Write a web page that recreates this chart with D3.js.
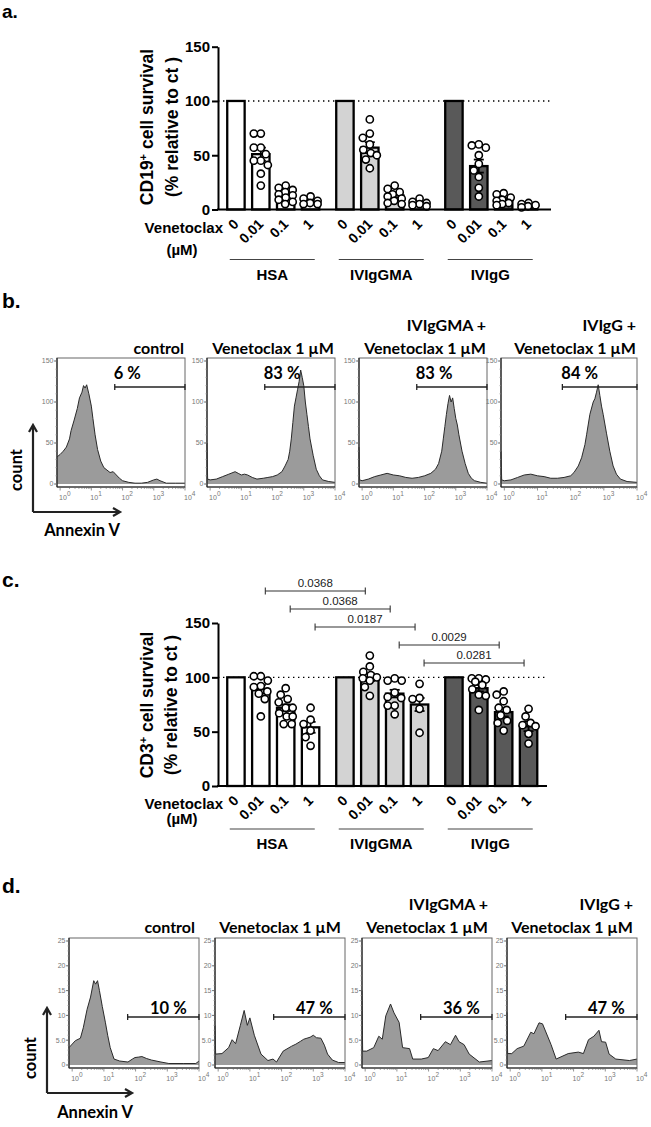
<!DOCTYPE html>
<html><head><meta charset="utf-8">
<script src="https://cdn.jsdelivr.net/npm/d3@7"></script>
<style>body{margin:0;background:#fff}svg{display:block}</style>
</head><body>
<script>
// ================= DATA =================
const groups = ["HSA", "IVIgGMA", "IVIgG"];
const doses = ["0", "0.01", "0.1", "1"];
const barFills = ["#ffffff", "#d3d3d3", "#595959"];

// Panel a : CD19+ cell survival (% relative to ct)
const cd19Mean_HSA = [100, 51, 14, 8];
const cd19Mean_GMA = [100, 57, 13, 6];
const cd19Mean_IgG = [100, 40, 9, 4];
const cd19Sem_HSA = [0, 6, 2, 1];
const cd19Sem_GMA = [0, 5, 2, 1];
const cd19Sem_IgG = [0, 6, 1.5, 0.8];
const cd19Pts_HSA = [[], [70, 70, 57, 57, 51, 45, 45, 41, 33, 22], [22, 20, 18, 16, 14, 13, 11, 9, 7, 5], [12, 10, 8, 6, 5, 5]];
const cd19Pts_GMA = [[], [83, 70, 66, 60, 55, 52, 50, 46, 38], [22, 19, 16, 14, 12, 10, 8, 6, 5], [10, 7, 6, 5, 4, 3]];
const cd19Pts_IgG = [[], [60, 59, 57, 50, 42, 36, 30, 20, 12], [15, 14, 11, 9, 8, 6, 5, 4], [6, 5, 4, 3, 2]];

// Panel c : CD3+ cell survival (% relative to ct)
const cd3Mean_HSA = [100, 89, 72, 54];
const cd3Mean_GMA = [100, 100, 85, 75];
const cd3Mean_IgG = [100, 90, 68, 55];
const cd3Sem_HSA = [0, 4, 3, 5];
const cd3Sem_GMA = [0, 3.5, 3.5, 6];
const cd3Sem_IgG = [0, 3, 4, 4.5];
const cd3Pts_HSA = [[], [101, 101, 97, 92, 91, 87, 85, 80, 64], [90, 84, 80, 77, 72, 72, 67, 64, 64, 57, 57], [72, 61, 57, 51, 45, 37]];
const cd3Pts_GMA = [[], [120, 110, 105, 102, 100, 99, 97, 91, 83], [99, 97, 97, 86, 82, 81, 74, 74, 66], [94, 81, 80, 71, 49]];
const cd3Pts_IgG = [[], [99, 99, 98, 96, 93, 89, 84, 83, 70], [87, 84, 78, 72, 70, 65, 60, 58, 51], [71, 64, 58, 56, 55, 48, 39]];
// significance comparisons [group1, dose1, group2, dose2, p]
const cd3Tests = [
  ["HSA", "0.01", "IVIgGMA", "0.01", "0.0368"],
  ["HSA", "0.1", "IVIgGMA", "0.1", "0.0368"],
  ["HSA", "1", "IVIgGMA", "1", "0.0187"],
  ["IVIgGMA", "0.1", "IVIgG", "0.1", "0.0029"],
  ["IVIgGMA", "1", "IVIgG", "1", "0.0281"]
];
const yTicks = [0, 50, 100, 150];

// Histograms : [log10(Annexin V), count]
const histTitles = [["control"], ["Venetoclax 1 \u00b5M"], ["IVIgGMA +", "Venetoclax 1 \u00b5M"], ["IVIgG +", "Venetoclax 1 \u00b5M"]];
const gateLog = [1.75, 4];
const bPercent = ["6 %", "83 %", "83 %", "84 %"];
const dPercent = ["10 %", "47 %", "36 %", "47 %"];
const bTicks = [0, 50, 100, 150];
const dTicks = [0, 5, 10, 15, 20, 25];

const bHist_control = [[-0.1,33],[0,36],[0.1,40],[0.2,45],[0.3,55],[0.35,65],[0.45,78],[0.55,92],[0.62,105],[0.7,112],[0.75,120],[0.8,117],[0.85,121],[0.92,110],[1.0,95],[1.05,80],[1.12,60],[1.2,42],[1.3,28],[1.4,20],[1.5,17],[1.6,14],[1.7,15],[1.8,11],[1.9,7],[2.0,4],[2.2,2],[2.4,1],[2.6,1],[2.8,2],[3.0,5],[3.1,6],[3.2,4],[3.4,1],[3.7,1],[4.0,1]];
const bHist_ven = [[-0.1,50],[-0.08,6],[0,5],[0.2,6],[0.4,9],[0.6,12],[0.8,15],[0.9,13],[1.0,11],[1.1,12],[1.2,11],[1.35,8],[1.5,6],[1.7,7],[1.85,8],[2.0,9],[2.15,11],[2.3,15],[2.4,22],[2.5,30],[2.55,40],[2.6,55],[2.65,75],[2.7,95],[2.75,105],[2.8,115],[2.85,125],[2.9,139],[2.95,130],[3.0,120],[3.05,100],[3.1,85],[3.15,70],[3.2,55],[3.3,35],[3.4,18],[3.5,10],[3.6,5],[3.8,3],[4.0,2]];
const bHist_gma = [[-0.1,45],[-0.08,5],[0,4],[0.2,6],[0.4,9],[0.6,11],[0.8,13],[1.0,11],[1.2,10],[1.4,8],[1.6,7],[1.8,8],[2.0,10],[2.2,13],[2.35,18],[2.45,25],[2.55,40],[2.6,55],[2.65,70],[2.7,85],[2.75,98],[2.8,108],[2.85,100],[2.9,105],[2.95,92],[3.0,80],[3.05,72],[3.1,60],[3.2,40],[3.3,25],[3.4,13],[3.5,7],[3.6,4],[3.8,2],[4.0,1]];
const bHist_igg = [[-0.1,40],[-0.08,5],[0,4],[0.2,5],[0.4,8],[0.6,11],[0.8,12],[1.0,10],[1.2,9],[1.4,7],[1.6,7],[1.8,8],[2.0,10],[2.1,14],[2.23,22],[2.33,32],[2.43,48],[2.48,60],[2.58,85],[2.68,100],[2.73,104],[2.78,112],[2.83,121],[2.88,108],[2.93,95],[2.98,85],[3.08,62],[3.18,40],[3.28,22],[3.38,12],[3.5,6],[3.7,3],[4.0,2]];

const dHist_control = [[-0.1,3.5],[0.1,4.9],[0.26,5.4],[0.35,7.5],[0.47,11.2],[0.58,13.7],[0.68,17],[0.74,16.3],[0.8,17],[0.86,15],[0.95,11.8],[1.05,8.5],[1.12,6],[1.2,3.5],[1.32,1.2],[1.5,0.8],[1.76,0.6],[1.9,1.2],[1.98,1.5],[2.1,1.6],[2.2,1.7],[2.35,1.3],[2.5,1.0],[2.8,0.6],[3.05,0.3],[3.5,0.3],[3.9,0.3],[4.0,0.8]];
const dHist_ven = [[-0.1,8],[-0.08,2.2],[0.12,2.3],[0.33,3.5],[0.44,5.1],[0.55,4.3],[0.7,8],[0.82,11],[0.92,8],[1.0,9.5],[1.14,6],[1.35,2.2],[1.57,0.9],[1.73,1.2],[1.84,0.6],[2.05,2.8],[2.32,3.8],[2.45,4.2],[2.59,4.75],[2.7,5.2],[2.8,5.4],[2.9,5.6],[3.0,6.0],[3.1,5.5],[3.24,5.4],[3.35,4],[3.45,2.2],[3.6,1.0],[3.8,0.5],[4.0,0.5]];
const dHist_gma = [[-0.1,15],[-0.08,2.8],[0.05,2.8],[0.27,3.5],[0.43,5.8],[0.54,5.2],[0.65,9.9],[0.8,12.3],[0.91,10.5],[1.07,8.6],[1.18,3.5],[1.4,3.3],[1.5,1.2],[1.77,1.2],[1.99,1.5],[2.15,3.3],[2.3,2.9],[2.53,4.7],[2.69,4.1],[2.85,6],[2.96,4.7],[3.12,4.1],[3.28,2.2],[3.6,0.6],[4.0,0.9]];
const dHist_igg = [[-0.1,10.6],[-0.08,2.3],[0.05,2.3],[0.22,3.3],[0.43,3.8],[0.65,6.6],[0.75,6.3],[0.91,8.5],[1.02,8.3],[1.29,4.1],[1.45,1.2],[1.83,2.3],[2.15,2.6],[2.31,2.3],[2.47,5.1],[2.64,5.8],[2.8,7],[2.88,4.7],[3.01,4.6],[3.12,2.2],[3.33,1.2],[3.76,0.9],[4.0,1.2]];

// ================= DRAWING =================
const ARIAL = "'Liberation Sans', Arial, Helvetica, sans-serif";
const CAL = "Lato, 'Open Sans', sans-serif";
const svg = d3.select("body").append("svg").attr("width", 651).attr("height", 1127);

function panelLetter(t, x, y, fs) {
  svg.append("text").attr("x", x).attr("y", y).text(t)
    .attr("font-family", ARIAL).attr("font-weight", "bold").attr("font-size", fs || 21);
}

// compact swarm: choose horizontal offset minimizing overlap, limited spread
function swarm(vals, cx, y, d, maxOff) {
  const placed = [];
  const items = vals.map(v => ({ v, py: y(v) })).sort((a, b) => a.py - b.py);
  items.forEach(p => {
    let best = 0, bestCost = Infinity;
    for (let off = -maxOff; off <= maxOff + 1e-6; off += 0.5) {
      let cost = Math.abs(off) * 0.02;
      placed.forEach(q => {
        const dist = Math.hypot(q.px - (cx + off), q.py - p.py);
        if (dist < d) cost += (d - dist) ** 2;
      });
      if (cost < bestCost - 1e-9) { bestCost = cost; best = off; }
    }
    p.px = cx + best; placed.push(p);
  });
  return placed;
}

function barPanel(o) {
  const g = svg.append("g");
  const y = d3.scaleLinear().domain([0, 150]).range([o.y0, o.y150]);
  const xg = d3.scaleBand().domain(groups).range([223.5, 541]).paddingInner(0.087).paddingOuter(0);
  const xd = d3.scaleBand().domain(doses).range([0, xg.bandwidth()]).paddingInner(0.3).paddingOuter(0.15);
  const bw = xd.bandwidth();
  const cx = (gr, d) => xg(gr) + xd(d) + bw / 2;
  const axX = 218;

  g.append("line").attr("x1", axX).attr("x2", o.axisEnd).attr("y1", y(100)).attr("y2", y(100))
    .attr("stroke", "#000").attr("stroke-width", 1.4).attr("stroke-dasharray", "1.4,3.6");

  groups.forEach((gr, gi) => {
    doses.forEach((d, di) => {
      const m = o.means[gi][di];
      g.append("rect").attr("x", cx(gr, d) - bw / 2).attr("y", y(m)).attr("width", bw)
        .attr("height", y(0) - y(m)).attr("fill", barFills[gi]).attr("stroke", "#000").attr("stroke-width", 2.3);
    });
  });
  groups.forEach((gr, gi) => {
    doses.forEach((d, di) => {
      const m = o.means[gi][di], s = o.sems[gi][di];
      if (!s) return;
      const c = cx(gr, d);
      const ep = g.append("g").attr("stroke", "#000").attr("stroke-width", 1.8);
      ep.append("line").attr("x1", c).attr("x2", c).attr("y1", y(m - s)).attr("y2", y(m + s));
      ep.append("line").attr("x1", c - 5).attr("x2", c + 5).attr("y1", y(m + s)).attr("y2", y(m + s));
      ep.append("line").attr("x1", c - 5).attr("x2", c + 5).attr("y1", y(m - s)).attr("y2", y(m - s));
    });
  });
  groups.forEach((gr, gi) => {
    doses.forEach((d, di) => {
      const pts = swarm(o.points[gi][di], cx(gr, d), y, 8.2, 7);
      g.selectAll(null).data(pts).enter().append("circle")
        .attr("cx", p => p.px).attr("cy", p => p.py).attr("r", 3.6)
        .attr("fill", "#fff").attr("stroke", "#000").attr("stroke-width", 1.6);
    });
  });

  const ay = g.append("g").attr("transform", `translate(${axX},0)`)
    .call(d3.axisLeft(y).tickValues(yTicks).tickSize(6).tickSizeOuter(0).tickPadding(2));
  ay.select(".domain").attr("stroke-width", 2);
  ay.selectAll(".tick line").attr("stroke-width", 2);
  ay.selectAll(".tick text").attr("font-family", ARIAL).attr("font-weight", "bold").attr("font-size", 15).attr("fill", "#000");
  g.append("line").attr("x1", axX - 1).attr("x2", o.axisEnd).attr("y1", y(0)).attr("y2", y(0))
    .attr("stroke", "#000").attr("stroke-width", 2);

  groups.forEach(gr => doses.forEach(d => {
    g.append("text").attr("transform", `translate(${cx(gr, d)},${y(0) + 12}) rotate(-45)`)
      .attr("text-anchor", "end").attr("dy", "0.35em").text(d)
      .attr("font-family", ARIAL).attr("font-weight", "bold").attr("font-size", 14);
  }));
  g.append("text").attr("x", 223).attr("y", y(0) + 18).attr("dy", "0.35em").attr("text-anchor", "end")
    .text("Venetoclax").attr("font-family", ARIAL).attr("font-weight", "bold").attr("font-size", 15);
  g.append("text").attr("x", 182).attr("y", y(0) + o.umOff).attr("dy", "0.35em").attr("text-anchor", "middle")
    .text("(\u00b5M)").attr("font-family", ARIAL).attr("font-weight", "bold").attr("font-size", 15);
  groups.forEach(gr => {
    const mid = xg(gr) + xg.bandwidth() / 2 - 1;
    g.append("line").attr("x1", mid - 42.5).attr("x2", mid + 42.5).attr("y1", y(0) + o.lineOff).attr("y2", y(0) + o.lineOff)
      .attr("stroke", "#444").attr("stroke-width", 1.2);
    g.append("text").attr("x", mid).attr("y", y(0) + o.lineOff + 15).attr("dy", "0.35em").attr("text-anchor", "middle")
      .text(gr).attr("font-family", ARIAL).attr("font-weight", "bold").attr("font-size", 15);
  });

  const tc = o.titleY;
  const t1 = g.append("text").attr("transform", `translate(${o.titleX1},${tc}) rotate(-90)`)
    .attr("text-anchor", "middle").attr("dy", "0.35em")
    .attr("font-family", ARIAL).attr("font-weight", "bold").attr("font-size", 17.5);
  t1.append("tspan").text(o.marker);
  t1.append("tspan").text("+").attr("font-size", 11).attr("dy", "-0.6em");
  t1.append("tspan").text(" cell survival").attr("dy", "0.38em");
  g.append("text").attr("transform", `translate(${o.titleX2},${tc}) rotate(-90)`)
    .attr("text-anchor", "middle").attr("dy", "0.35em").text("(% relative to ct )")
    .attr("font-family", ARIAL).attr("font-weight", "bold").attr("font-size", 17.5);

  if (o.tests) {
    o.tests.forEach((t, i) => {
      const x1 = cx(t[0], t[1]) + 4.5, x2 = cx(t[2], t[3]) - 4.5;
      const yy = o.bracketTop + i * 18;
      const bg = g.append("g").attr("stroke", "#333").attr("stroke-width", 1.1);
      bg.append("line").attr("x1", x1).attr("x2", x2).attr("y1", yy).attr("y2", yy);
      bg.append("line").attr("x1", x1).attr("x2", x1).attr("y1", yy - 3.5).attr("y2", yy + 3.5);
      bg.append("line").attr("x1", x2).attr("x2", x2).attr("y1", yy - 3.5).attr("y2", yy + 3.5);
      g.append("text").attr("x", (x1 + x2) / 2).attr("y", yy - 4).attr("text-anchor", "middle").text(t[4])
        .attr("font-family", ARIAL).attr("font-size", 11.5).attr("fill", "#222");
    });
  }
}

function histPanel(o) {
  const g = svg.append("g");
  const x = d3.scaleLog().domain([Math.pow(10, -0.1), 1e4]).range([o.left, o.left + o.width]);
  const y = d3.scaleLinear().domain([0, o.ymax]).range([o.y0, o.yTop]);
  const area = d3.area().x(d => x(Math.pow(10, d[0]))).y0(y(0)).y1(d => y(d[1]));
  const line = d3.line().x(d => x(Math.pow(10, d[0]))).y(d => y(d[1]));
  g.append("path").datum(o.data).attr("d", area).attr("fill", "#9b9b9b");
  g.append("path").datum(o.data).attr("d", line).attr("fill", "none").attr("stroke", "#2a2a2a").attr("stroke-width", 1);
  g.append("rect").attr("x", o.left).attr("y", o.top).attr("width", o.width).attr("height", o.bottom - o.top)
    .attr("fill", "none").attr("stroke", "#666").attr("stroke-width", 1);
  g.append("line").attr("x1", o.left).attr("x2", o.left).attr("y1", o.top).attr("y2", o.bottom).attr("stroke", "#222").attr("stroke-width", 1.2);
  g.append("line").attr("x1", o.left).attr("x2", o.left + o.width).attr("y1", o.bottom).attr("y2", o.bottom).attr("stroke", "#222").attr("stroke-width", 1.2);
  const minors = d3.range(0, o.ymax + 0.001, o.minorStep);
  g.selectAll(null).data(minors).enter().append("line")
    .attr("x1", o.left - 1.5).attr("x2", o.left).attr("y1", d => y(d)).attr("y2", d => y(d)).attr("stroke", "#888").attr("stroke-width", 0.7);
  g.selectAll(null).data(o.ticks).enter().append("line")
    .attr("x1", o.left - 3).attr("x2", o.left).attr("y1", d => y(d)).attr("y2", d => y(d)).attr("stroke", "#555").attr("stroke-width", 0.8);
  g.selectAll(null).data(o.ticks).enter().append("text")
    .attr("x", o.left - 3.5).attr("y", d => y(d)).attr("dy", "0.35em").attr("text-anchor", "end")
    .text(o.fmt).attr("font-family", ARIAL).attr("font-size", 7).attr("fill", "#777");
  const xt = x.ticks().filter(v => v >= 1 && v <= 1e4);
  g.selectAll(null).data(xt).enter().append("line")
    .attr("x1", d => x(d)).attr("x2", d => x(d)).attr("y1", o.bottom)
    .attr("y2", d => o.bottom + (Math.abs(Math.log10(d) - Math.round(Math.log10(d))) < 1e-6 ? 3.5 : 1.8))
    .attr("stroke", "#666").attr("stroke-width", 0.7);
  [0, 1, 2, 3, 4].forEach(e => {
    const t = g.append("text").attr("x", x(Math.pow(10, e)) - 1).attr("y", o.bottom + 13)
      .attr("font-family", ARIAL).attr("font-size", 7).attr("fill", "#777");
    t.append("tspan").text("10");
    t.append("tspan").text(e).attr("dy", -4).attr("font-size", 6.5);
  });
  const gx1 = x(Math.pow(10, gateLog[0])), gx2 = x(Math.pow(10, gateLog[1])), gy = o.gateY;
  const gg = g.append("g").attr("stroke", "#222").attr("stroke-width", 1.3);
  gg.append("line").attr("x1", gx1).attr("x2", gx2).attr("y1", gy).attr("y2", gy);
  gg.append("line").attr("x1", gx1).attr("x2", gx1).attr("y1", gy - 3).attr("y2", gy + 3);
  gg.append("line").attr("x1", gx2).attr("x2", gx2).attr("y1", gy - 3).attr("y2", gy + 3);
  g.append("text").attr("x", o.labelMiddle ? (gx1 + gx2) / 2 + 5 : gx1 - 1).attr("y", o.labelY)
    .attr("text-anchor", o.labelMiddle ? "middle" : "start").text(o.label)
    .attr("font-family", CAL).attr("font-weight", "bold").attr("font-size", 16.5);
  o.title.forEach((tl, i) => {
    g.append("text").attr("x", o.left + o.width - o.titleInset).attr("y", o.titleBase - (o.title.length - 1 - i) * 23)
      .attr("text-anchor", "end").text(tl).attr("font-family", CAL).attr("font-weight", "bold").attr("font-size", 16);
  });
}

function arrows(x0, y0, len, countY, annX, annY) {
  const g = svg.append("g");
  g.append("path").attr("d", `M${x0},${y0}V${y0 - len}M${x0 - 4},${y0 - len + 7}L${x0},${y0 - len}L${x0 + 4},${y0 - len + 7}`)
    .attr("fill", "none").attr("stroke", "#222").attr("stroke-width", 2.2);
  g.append("path").attr("d", `M${x0},${y0}H${x0 + len}M${x0 + len - 7},${y0 - 4}L${x0 + len},${y0}L${x0 + len - 7},${y0 + 4}`)
    .attr("fill", "none").attr("stroke", "#222").attr("stroke-width", 2.2);
  g.append("text").attr("transform", `translate(${x0 - 17},${countY}) rotate(-90)`).attr("text-anchor", "middle").attr("dy", "0.35em")
    .text("count").attr("font-family", CAL).attr("font-weight", "bold").attr("font-size", 16.5);
  g.append("text").attr("x", annX).attr("y", annY).attr("text-anchor", "middle").attr("dy", "0.35em")
    .text("Annexin V").attr("font-family", CAL).attr("font-weight", "bold").attr("font-size", 16.5);
}

// ---- panel a ----
panelLetter("a.", 2, 18, 19);
barPanel({
  y0: 209.5, y150: 46.7, axisEnd: 551, umOff: 40, lineOff: 50,
  means: [cd19Mean_HSA, cd19Mean_GMA, cd19Mean_IgG],
  sems: [cd19Sem_HSA, cd19Sem_GMA, cd19Sem_IgG],
  points: [cd19Pts_HSA, cd19Pts_GMA, cd19Pts_IgG],
  marker: "CD19", titleX1: 147, titleX2: 172, titleY: 127
});

// ---- panel b ----
panelLetter("b.", 2, 308);
const bFrames = [[57, 128], [207, 128], [359, 128], [501, 136]];
const bData = [bHist_control, bHist_ven, bHist_gma, bHist_igg];
bFrames.forEach((f, i) => histPanel({
  left: f[0], width: f[1], top: 358, bottom: 487, y0: 484, yTop: 361, ymax: 150,
  ticks: bTicks, minorStep: 10, fmt: d => d, data: bData[i],
  gateY: 387, label: bPercent[i], labelY: 379, labelMiddle: false,
  title: histTitles[i], titleBase: 354, titleInset: 1
}));
arrows(33, 512, 87, 470, 82, 530);

// ---- panel c ----
panelLetter("c.", 2, 587);
barPanel({
  y0: 786, y150: 623, axisEnd: 547, umOff: 33, lineOff: 43,
  means: [cd3Mean_HSA, cd3Mean_GMA, cd3Mean_IgG],
  sems: [cd3Sem_HSA, cd3Sem_GMA, cd3Sem_IgG],
  points: [cd3Pts_HSA, cd3Pts_GMA, cd3Pts_IgG],
  marker: "CD3", titleX1: 147, titleX2: 171, titleY: 705,
  tests: cd3Tests, bracketTop: 591
});

// ---- panel d ----
panelLetter("d.", 2, 893);
const dLefts = [69, 215, 362, 507];
const dData = [dHist_control, dHist_ven, dHist_gma, dHist_igg];
dLefts.forEach((l, i) => histPanel({
  left: l, width: 130, top: 938, bottom: 1068, y0: 1065, yTop: 941, ymax: 25,
  ticks: dTicks, minorStep: 1, fmt: d => (d === 5 ? "5.0" : d), data: dData[i],
  gateY: 1017, label: dPercent[i], labelY: 1014, labelMiddle: true,
  title: histTitles[i], titleBase: 933, titleInset: 4
}));
arrows(47, 1093, 85, 1058, 95, 1112);
</script>
</body></html>
